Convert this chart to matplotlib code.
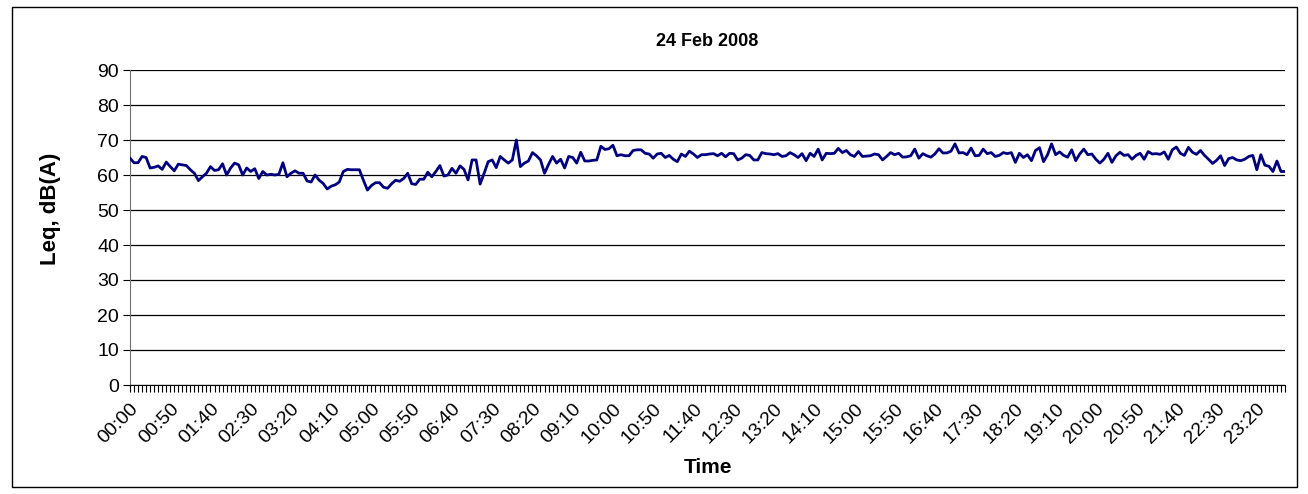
import matplotlib
matplotlib.use("Agg")
import matplotlib.pyplot as plt
from matplotlib.patches import Rectangle
import numpy as np

plt.rcParams['font.family'] = ['Liberation Sans', 'DejaVu Sans']

# 5-minute Leq readings
leq_0000 = [64.8, 63.5, 63.5, 65.3, 65.0, 62.0, 62.2, 62.6, 61.6, 63.7, 62.4, 61.2, 63.1,
            62.9, 62.7, 61.5, 60.5, 58.4, 59.5, 60.5, 62.4, 61.3, 61.5, 63.2, 60.0, 62.0]
leq_0210 = [63.4, 62.9, 60.0, 62.0, 61.0, 61.8, 59.0, 61.0, 60.0, 60.2, 60.0, 60.2, 63.5,
            59.5, 60.5, 61.2, 60.5, 60.5, 58.3, 58.0, 60.0, 58.5, 57.6, 56.0, 56.8, 57.2]
leq_0420 = [58.0, 61.0, 61.6, 61.5, 61.5, 61.5, 58.5, 55.7, 57.0, 57.8, 57.8, 56.5, 56.2,
            57.5, 58.5, 58.2, 59.0, 60.5, 57.5, 57.3, 58.8, 58.8, 60.8, 59.5, 61.0, 62.7]
leq_0630 = [59.7, 60.0, 61.9, 60.5, 62.6, 61.6, 58.6, 64.3, 64.3, 57.4, 60.5, 63.8, 64.3,
            62.1, 65.3, 64.3, 63.4, 64.3, 70.0, 62.4, 63.4, 64.0, 66.4, 65.5, 64.3, 60.5]
leq_0840 = [63.0, 65.3, 63.4, 64.5, 62.0, 65.3, 65.0, 63.4, 66.5, 64.0, 64.0, 64.2, 64.3,
            68.2, 67.3, 67.5, 68.5, 65.5, 65.8, 65.5, 65.5, 67.0, 67.2, 67.2, 66.2, 66.0]
leq_1050 = [64.8, 66.0, 66.2, 65.0, 65.6, 64.5, 63.8, 66.0, 65.3, 66.8, 66.0, 65.0, 65.8,
            65.8, 66.0, 66.1, 65.5, 66.2, 65.2, 66.2, 66.1, 64.3, 64.8, 65.8, 65.6, 64.3]
leq_1300 = [64.3, 66.4, 66.1, 66.0, 65.8, 66.1, 65.3, 65.5, 66.4, 65.8, 65.0, 66.1, 64.1,
            66.2, 65.3, 67.4, 64.3, 66.2, 66.1, 66.2, 67.6, 66.4, 67.0, 65.8, 65.3, 66.7]
leq_1510 = [65.3, 65.4, 65.5, 66.0, 65.8, 64.3, 65.3, 66.4, 65.8, 66.2, 65.1, 65.2, 65.5,
            67.4, 64.8, 66.1, 65.5, 65.1, 66.0, 67.5, 66.3, 66.3, 66.8, 68.9, 66.3, 66.4]
leq_1720 = [65.8, 67.7, 65.5, 65.6, 67.4, 66.1, 66.4, 65.3, 65.6, 66.4, 66.1, 66.4, 63.6,
            66.2, 65.0, 65.8, 64.1, 67.0, 67.8, 63.8, 65.8, 68.9, 65.8, 66.6, 65.6, 65.1]
leq_1930 = [67.2, 64.1, 66.0, 67.4, 65.8, 66.0, 64.5, 63.4, 64.5, 66.2, 63.6, 65.5, 66.5,
            65.6, 65.8, 64.5, 65.6, 66.2, 64.5, 66.7, 66.0, 66.1, 65.9, 66.6, 64.5, 67.2]
leq_2140 = [68.0, 66.2, 65.6, 67.9, 66.5, 65.9, 67.0, 65.6, 64.5, 63.3, 64.2, 65.5, 62.7,
            64.7, 65.0, 64.3, 64.1, 64.5, 65.3, 65.6, 61.5, 65.8, 62.8, 62.5, 61.0, 64.0,
            61.0, 61.0]

leq = (leq_0000 + leq_0210 + leq_0420 + leq_0630 + leq_0840 + leq_1050 +
       leq_1300 + leq_1510 + leq_1720 + leq_1930 + leq_2140)
times = [f"{m // 60:02d}:{m % 60:02d}" for m in range(0, 1440, 5)]
label_every = 10
y_ticks = list(range(0, 100, 10))

W, H = 1308, 494
fig = plt.figure(figsize=(W / 100, H / 100), dpi=100)
fig.patch.set_facecolor('white')
fig.patches.append(Rectangle((12 / W, 7 / H), 1285 / W, 480 / H, transform=fig.transFigure,
                             fill=False, edgecolor='black', linewidth=1.0))

ax = fig.add_axes([130 / W, 1 - 385 / H, (1285 - 130) / W, (385 - 70) / H])
x = np.arange(len(leq))
ax.plot(x, leq, color='#000080', linewidth=2.0, zorder=3)

ax.set_xlim(0, len(leq) - 1)
ax.set_ylim(0, 90)
ax.set_yticks(y_ticks)
ax.yaxis.grid(True, color='black', linewidth=0.9)
ax.set_axisbelow(True)

ax.set_xticks(x[::label_every])
ax.set_xticklabels(times[::label_every], rotation=45, ha='right', va='top',
                   rotation_mode='anchor', fontsize=14)
ax.set_xticks(x, minor=True)
ax.tick_params(axis='x', which='both', direction='out', length=5, width=0.8, pad=6)
ax.tick_params(axis='y', direction='out', length=5, width=0.8, labelsize=14, pad=3)

for side in ['top', 'right']:
    ax.spines[side].set_visible(False)
ax.spines['left'].set_color('#707070')
ax.spines['bottom'].set_color('black')

ax.set_title('24 Feb 2008', fontsize=13, fontweight='bold', pad=17)
ax.set_ylabel('Leq, dB(A)', fontsize=16, fontweight='bold')
ax.yaxis.set_label_coords(-0.06, 0.56)
ax.set_xlabel('Time', fontsize=15, fontweight='bold', labelpad=8)

fig.savefig('out.png', dpi=100)
